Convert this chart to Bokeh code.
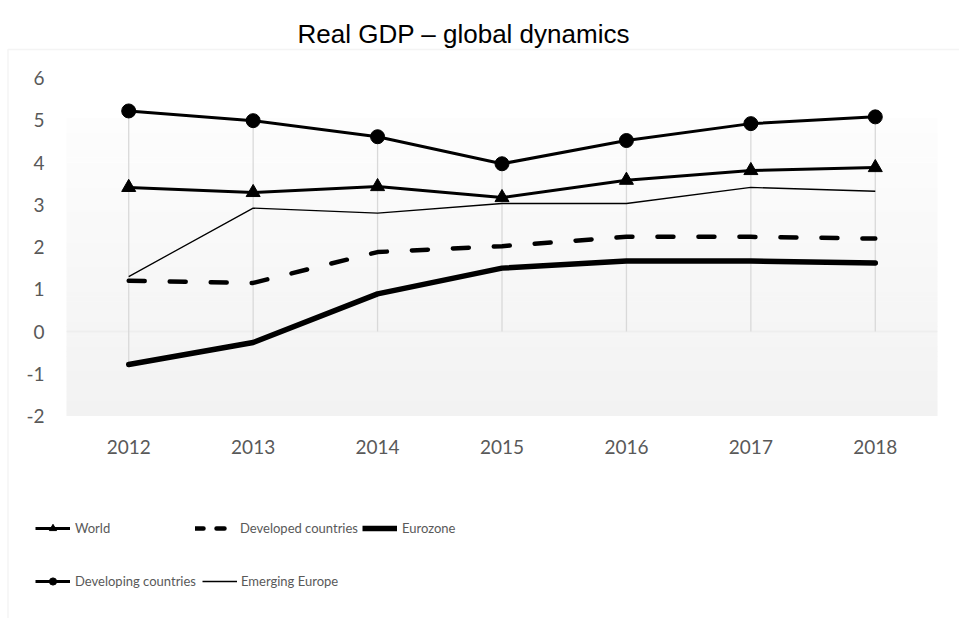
from bokeh.plotting import figure
from bokeh.models import (Range1d, Label, Legend, LegendItem,
                          BoxAnnotation, PolyAnnotation)
from bokeh.core.properties import value
from bokeh.embed import file_html
from bokeh.resources import INLINE

# ---- data ----
years = ["2012", "2013", "2014", "2015", "2016", "2017", "2018"]
world = [3.41, 3.29, 3.43, 3.17, 3.58, 3.81, 3.88]
developed = [1.20, 1.15, 1.88, 2.02, 2.24, 2.24, 2.20]
eurozone = [-0.78, -0.26, 0.89, 1.50, 1.67, 1.67, 1.62]
developing = [5.22, 4.99, 4.61, 3.97, 4.52, 4.92, 5.08]
emerging = [1.30, 2.92, 2.80, 3.03, 3.03, 3.41, 3.32]
y_ticks = [-2, -1, 0, 1, 2, 3, 4, 5, 6]
y_min, y_max = -2, 6
title_text = "Real GDP – global dynamics"
names = ["World", "Developed countries", "Eurozone",
         "Developing countries", "Emerging Europe"]

# ---- layout constants (pixels) ----
W, H = 959, 618
PA_LEFT, PA_RIGHT = 66.0, 937.0        # plot-area edges
PA_TOP, PA_BOTTOM = 77.5, 415.5        # y of y_max / y_min
FONT = "Lato"
GRID = "#d9d9d9"
TXT = "#595959"
NAN = float("nan")

idx = list(range(len(years)))
band = (PA_RIGHT - PA_LEFT) / len(years)
upx = (PA_BOTTOM - PA_TOP) / (y_max - y_min)
x_start = -0.5 - PA_LEFT / band
x_end = -0.5 + (W - PA_LEFT) / band
y_start = y_min - (H - PA_BOTTOM) / upx
y_end = y_max + PA_TOP / upx

p = figure(width=W, height=H, x_range=Range1d(x_start, x_end),
           y_range=Range1d(y_start, y_end), min_border=0,
           output_backend="svg", toolbar_location=None)
p.xaxis.visible = False
p.yaxis.visible = False
p.xgrid.grid_line_color = None
p.ygrid.grid_line_color = None
p.outline_line_color = None
p.background_fill_color = "white"
p.border_fill_color = "white"

# gradient plot-area background
n = 60
g_bot, g_top = float(y_min), 5.05
for i in range(n):
    b = g_bot + (g_top - g_bot) * i / n
    t = g_bot + (g_top - g_bot) * (i + 1) / n + 0.01
    c = int(round(242 + (253 - 242) * i / (n - 1)))
    p.add_layout(BoxAnnotation(left=-0.5, right=len(years) - 0.5, bottom=b, top=t,
                               fill_color=(c, c, c), fill_alpha=1, line_alpha=0,
                               level="underlay"))

# category axis line at zero
p.add_layout(BoxAnnotation(left=-0.5, right=len(years) - 0.5, bottom=0, top=0,
                           fill_alpha=0, line_color=GRID, line_width=1.5,
                           level="underlay"))

# drop lines
series = [world, developed, eurozone, developing, emerging]
highs = [max(s[i] for s in series) for i in idx]
lows = [min(min(s[i] for s in series), 0) for i in idx]
p.segment(x0=idx, y0=lows, x1=idx, y1=highs, line_color=GRID, line_width=1.3)

# series
p.line(idx, emerging, line_color="black", line_width=1.3)
p.line(idx, developed, line_color="black", line_width=4.5,
       line_dash="16 25", line_cap="round")
p.line(idx, eurozone, line_color="black", line_width=5.5,
       line_cap="round", line_join="round")
p.line(idx, world, line_color="black", line_width=3)
p.scatter(idx, world, marker="triangle", size=14, color="black")
p.line(idx, developing, line_color="black", line_width=3)
p.scatter(idx, developing, marker="circle", size=14, color="black")

# tick labels
p.text(x=[-0.5] * len(y_ticks), y=y_ticks, text=[str(t) for t in y_ticks],
       x_offset=-22, text_align="right", text_baseline="middle",
       text_font=value(FONT), text_font_size="19px", text_color=TXT)
p.text(x=idx, y=[y_min] * len(idx), text=years, y_offset=31,
       text_align="center", text_baseline="middle",
       text_font=value(FONT), text_font_size="19px", text_color=TXT)

# title
p.add_layout(Label(x=297, y=H - 33, x_units="screen", y_units="screen",
                   text=title_text, text_align="left", text_baseline="middle",
                   text_font="Liberation Sans", text_font_size="26px",
                   text_color="black"))

# outer chart border (top + left)
p.add_layout(PolyAnnotation(xs=[7.5, 7.5, W + 20, W + 20], ys=[-20, H - 49, H - 49, -20],
                            xs_units="screen", ys_units="screen",
                            fill_alpha=0, line_color=GRID, line_width=1.5))

# legend proxies (NaN data: nothing drawn in the plot, only the legend swatch)
proxies = []
r1 = p.line([NAN], [NAN], line_color="black", line_width=3)
r1b = p.scatter([NAN], [NAN], marker="triangle", size=10, color="black")
proxies.append([r1, r1b])
r2 = p.line([NAN], [NAN], line_color="black", line_width=4.5, line_dash="8 13",
            line_cap="round")
proxies.append([r2])
r3 = p.line([NAN], [NAN], line_color="black", line_width=5.5)
proxies.append([r3])
r4 = p.line([NAN], [NAN], line_color="black", line_width=3)
r4b = p.scatter([NAN], [NAN], marker="circle", size=10, color="black")
proxies.append([r4, r4b])
r5 = p.line([NAN], [NAN], line_color="black", line_width=1.3)
proxies.append([r5])

row1, row2 = H - 528 - 9, H - 581 - 9
locs = [(35, row1), (195, row1), (362, row1), (35, row2), (202, row2)]
standoffs = [5, 10, 5, 5, 4]
for name, rs, loc, so in zip(names, proxies, locs, standoffs):
    lg = Legend(items=[LegendItem(label=name, renderers=rs)], location=loc,
                orientation="horizontal", glyph_width=35, glyph_height=18,
                label_height=18, label_standoff=so, padding=0, margin=0,
                spacing=0, border_line_color=None, background_fill_alpha=0,
                label_text_font=FONT, label_text_font_size="13px",
                label_text_color=TXT)
    p.add_layout(lg)

open("out.html", "w").write(file_html(p, INLINE))
